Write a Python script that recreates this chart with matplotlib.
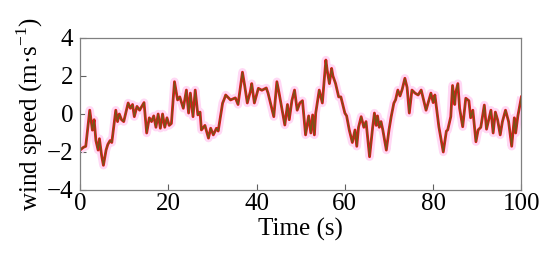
import matplotlib
matplotlib.use("Agg")
import matplotlib.pyplot as plt

plt.rcParams['font.family'] = ['Liberation Serif', 'DejaVu Serif']
plt.rcParams['mathtext.fontset'] = 'custom'
plt.rcParams['mathtext.rm'] = 'Liberation Serif'

times = [0.0, 0.8, 1.3, 2.2, 2.8, 3.2, 3.6, 4.1, 4.4, 4.9, 5.3, 5.9, 6.3, 6.8, 7.2,
         8.1, 8.5, 8.9, 9.4, 9.9, 10.9, 11.4, 11.9, 12.3, 12.9, 13.5, 14.5, 15.1,
         15.7, 16.2, 16.7, 17.2, 17.7, 18.2, 18.7, 19.2, 19.7, 20.2, 20.7, 21.4,
         22.1, 22.6, 23.4, 24.1, 24.6, 25.0, 25.6, 26.1, 26.7, 27.2, 27.5, 28.3,
         29.1, 29.6, 30.2, 30.9, 31.3, 32.3, 32.7, 33.0, 34.1, 35.2, 35.8, 36.8,
         37.3, 37.9, 38.6, 38.9, 39.5, 40.0, 40.4, 41.2, 42.2, 42.6, 43.9, 44.6,
         45.1, 45.9, 46.4, 47.0, 47.4, 48.0, 48.6, 49.2, 49.8, 50.4, 51.1, 51.8,
         52.3, 52.7, 53.1, 53.4, 54.2, 54.9, 55.7, 56.0, 56.5, 57.0, 57.3, 57.9,
         58.6, 59.1, 60.0, 60.4, 61.0, 61.7, 62.3, 62.7, 63.1, 63.7, 64.3, 64.8,
         65.6, 66.3, 66.7, 67.1, 67.4, 67.8, 68.2, 68.6, 69.4, 70.0, 70.5, 71.1,
         71.5, 72.0, 72.5, 73.0, 73.6, 74.1, 74.6, 75.2, 75.9, 76.6, 77.3, 78.4,
         79.5, 80.0, 80.4, 81.3, 82.3, 83.0, 83.3, 84.0, 84.4, 84.9, 85.1, 85.6,
         86.0, 86.7, 87.4, 88.1, 88.5, 89.0, 89.7, 90.2, 90.8, 91.6, 92.1, 92.6,
         93.1, 93.6, 94.1, 94.6, 95.2, 95.7, 96.4, 97.1, 97.8, 98.4, 98.7, 99.2,
         100.0]
speed = [-1.9, -1.75, -1.7, 0.2, -0.85, -0.3, -1.4, -1.9, -1.3, -2.2, -2.7, -1.9,
         -1.6, -1.4, -1.5, 0.2, -0.4, 0.0, -0.3, -0.4, 0.58, 0.3, 0.5, -0.14, 0.4,
         0.2, 0.6, -1.0, -0.2, -0.4, -0.1, -0.7, 0.0, -0.75, 0.0, -0.7, -0.2, -0.6,
         -0.5, 1.7, 0.74, 0.9, 0.3, 1.26, 0.05, 1.1, -0.14, 1.26, -0.05, 0.1, -0.84,
         -0.6, -1.27, -0.75, -1.1, -0.75, -0.9, 0.57, 0.8, 1.0, 0.74, 0.85, 0.5,
         2.2, 1.5, 0.58, 1.2, 1.6, 0.58, 1.0, 1.35, 1.25, 1.37, 1.1, -0.14, 1.7,
         1.1, 0.05, -0.58, 0.5, -0.3, 0.7, 1.26, 0.2, 0.58, 0.7, -1.1, -0.1, -1.0,
         -0.05, -1.1, 0.05, 1.26, 0.58, 2.84, 2.3, 1.6, 2.4, 2.0, 1.6, 0.9, 0.9,
         0.05, -0.1, -0.84, -1.5, -0.84, -1.7, -0.7, -0.14, -0.7, -0.4, -2.25, -0.7,
         0.05, -0.6, -0.1, -0.7, -0.4, -0.84, -1.9, -0.84, -0.14, 0.57, 0.75, 1.26,
         0.95, 1.3, 1.88, 1.4, 0.05, 1.26, 1.1, 1.0, 1.26, 0.2, 1.1, 0.6, 1.0,
         -0.67, -2.0, -0.9, -0.84, -0.14, 1.5, 0.5, 1.1, 1.6, 0.3, -0.67, 0.83, 0.7,
         -0.2, 0.2, -1.46, -0.84, -0.7, 0.47, -0.8, -0.3, 0.2, -1.0, 0.1, -0.3,
         -1.1, -0.4, 0.2, -0.4, -1.7, -0.2, -1.0, -0.1, 0.9]

fig = plt.figure(figsize=(5.5, 2.67), dpi=100)
ax = fig.add_axes([0.1455, 0.2884, 0.8025, 0.5693])

# faint pink band behind the trace
ax.plot(times, speed, color='#ffd8f4', lw=6, solid_joinstyle='round',
        solid_capstyle='butt')
ax.plot(times, speed, color='#e8141c', lw=2.0, solid_joinstyle='round')
ax.plot(times, speed, color='#7a5216', lw=1.0, solid_joinstyle='round')

ax.set_xlim(0, 100)
ax.set_ylim(-4, 4)
ax.set_xticks([0, 20, 40, 60, 80, 100])
ax.set_yticks([-4, -2, 0, 2, 4])
ax.tick_params(direction='in', length=4, width=0.8, color='#606060',
               labelsize=18)
ax.tick_params(axis='x', pad=2)
ax.tick_params(axis='y', pad=5)
for s in ax.spines.values():
    s.set_color('#808080')
    s.set_linewidth(0.9)

ax.set_xlabel('Time (s)', fontsize=18, labelpad=2)
ax.set_ylabel('wind speed (m·s$^{\\mathregular{-1}}$)', fontsize=18, labelpad=1)

fig.savefig('out.png', dpi=100)
